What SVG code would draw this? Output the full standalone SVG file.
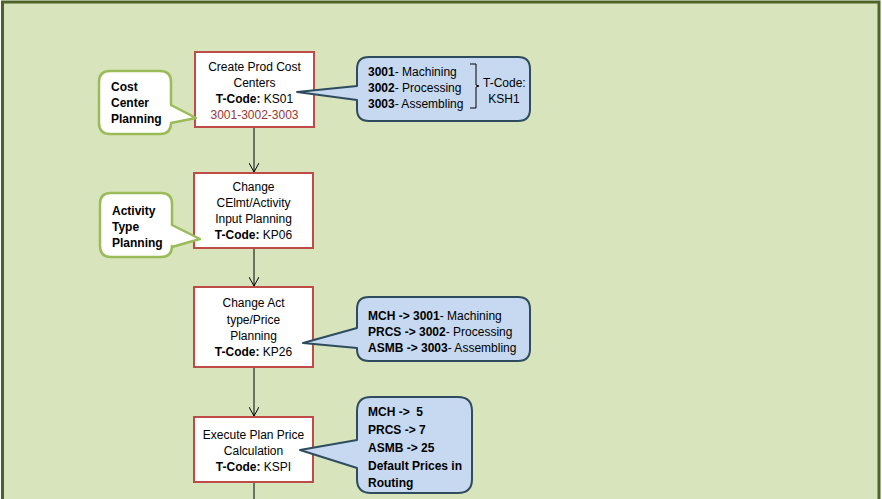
<svg xmlns="http://www.w3.org/2000/svg" width="882" height="499" viewBox="0 0 882 499">
<style>
text{font-family:"Liberation Sans",Arial,sans-serif;font-size:12px;fill:#000}
.c{text-anchor:middle}
.b{font-weight:bold}
.red{fill:#953735}
.box{fill:#fff;stroke:#be4b48;stroke-width:2}
.gc{fill:#fff;stroke:#9bbb59;stroke-width:2.5;stroke-linejoin:round}
.bc{fill:#c6d9f1;stroke:#2e4c5e;stroke-width:2;stroke-linejoin:round}
.conn line{stroke:#000;stroke-width:1}
</style>
<defs>
<marker id="ah" viewBox="0 0 10 10" refX="9" refY="5" markerWidth="10" markerHeight="10" markerUnits="userSpaceOnUse" orient="auto">
<path d="M0,0 L9,5 L0,10" fill="none" stroke="#000" stroke-width="1"/>
</marker>
</defs>
<rect x="0" y="0" width="882" height="499" fill="#fbfbf8"/>
<rect x="2.5" y="2" width="876.5" height="500" fill="#d8e4bc" stroke="#4f6228" stroke-width="3"/>

<g id="connectors" class="conn">
<line x1="254" y1="127" x2="254" y2="172" marker-end="url(#ah)"/>
<line x1="254" y1="248" x2="254" y2="286" marker-end="url(#ah)"/>
<line x1="254" y1="367" x2="254" y2="416" marker-end="url(#ah)"/>
<line x1="254" y1="482" x2="254" y2="499"/>
</g>

<g id="node-ks01">
<rect class="box" x="195" y="52" width="119" height="75"/>
<text class="c" x="254.5" y="71">Create Prod Cost</text>
<text class="c" x="254.5" y="87">Centers</text>
<text class="c" x="254.5" y="103"><tspan class="b">T-Code:</tspan> KS01</text>
<text class="c red" x="254.5" y="119">3001-3002-3003</text>
</g>

<g id="callout-cost-center">
<path class="gc" d="M110,71 H160 Q171,71 171,82 V105 L196,118 L171,123 V123 Q171,134 160,134 H110 Q99,134 99,123 V82 Q99,71 110,71 Z"/>
<text class="b" x="111" y="91">Cost</text>
<text class="b" x="111" y="107">Center</text>
<text class="b" x="111" y="123">Planning</text>
</g>

<g id="callout-ksh1">
<path class="bc" d="M369,57 H518 Q530,57 530,69 V109 Q530,121 518,121 H369 Q357,121 357,109 V100 L297,92 L357,86 V69 Q357,57 369,57 Z"/>
<text x="368" y="76"><tspan class="b">3001</tspan>- Machining</text>
<text x="368" y="92"><tspan class="b">3002</tspan>- Processing</text>
<text x="368" y="108"><tspan class="b">3003</tspan>- Assembling</text>
<path d="M470,64 H476 V85 L479,86 L476,87 V108 H470" fill="none" stroke="#000" stroke-width="1"/>
<text x="483" y="87">T-Code:</text>
<text class="c" x="504" y="103">KSH1</text>
</g>

<g id="node-kp06">
<rect class="box" x="194" y="173" width="119" height="75"/>
<text class="c" x="253.5" y="191">Change</text>
<text class="c" x="253.5" y="207">CElmt/Activity</text>
<text class="c" x="253.5" y="223">Input Planning</text>
<text class="c" x="253.5" y="239"><tspan class="b">T-Code:</tspan> KP06</text>
</g>

<g id="callout-activity-type">
<path class="gc" d="M111,193 H161 Q172,193 172,204 V225 L200,239 L172,247 V246 Q172,257 161,257 H111 Q100,257 100,246 V204 Q100,193 111,193 Z"/>
<text class="b" x="112" y="215">Activity</text>
<text class="b" x="112" y="231">Type</text>
<text class="b" x="112" y="247">Planning</text>
</g>

<g id="node-kp26">
<rect class="box" x="194" y="287" width="119" height="80"/>
<text class="c" x="253.5" y="307">Change Act</text>
<text class="c" x="253.5" y="324">type/Price</text>
<text class="c" x="253.5" y="340">Planning</text>
<text class="c" x="253.5" y="356"><tspan class="b">T-Code:</tspan> KP26</text>
</g>

<g id="callout-mapping">
<path class="bc" d="M369,297 H518 Q530,297 530,309 V349 Q530,361 518,361 H369 Q357,361 357,349 V348 L303,343 L357,328 V309 Q357,297 369,297 Z"/>
<text x="368" y="320"><tspan class="b">MCH -&gt; 3001</tspan>- Machining</text>
<text x="368" y="336"><tspan class="b">PRCS -&gt; 3002</tspan>- Processing</text>
<text x="368" y="352"><tspan class="b">ASMB -&gt; 3003</tspan>- Assembling</text>
</g>

<g id="node-kspi">
<rect class="box" x="194" y="417" width="119" height="65"/>
<text class="c" x="253.5" y="439">Execute Plan Price</text>
<text class="c" x="253.5" y="455">Calculation</text>
<text class="c" x="253.5" y="471"><tspan class="b">T-Code:</tspan> KSPI</text>
</g>

<g id="callout-prices">
<path class="bc" d="M371,397 H458 Q472,397 472,411 V479 Q472,493 458,493 H371 Q357,493 357,479 V468 L300,450 L357,440 V411 Q357,397 371,397 Z"/>
<text class="b" x="368" y="416" xml:space="preserve">MCH -&gt;  5</text>
<text class="b" x="368" y="434">PRCS -&gt; 7</text>
<text class="b" x="368" y="452">ASMB -&gt; 25</text>
<text class="b" x="368" y="470">Default Prices in</text>
<text class="b" x="368" y="487">Routing</text>
</g>
</svg>
